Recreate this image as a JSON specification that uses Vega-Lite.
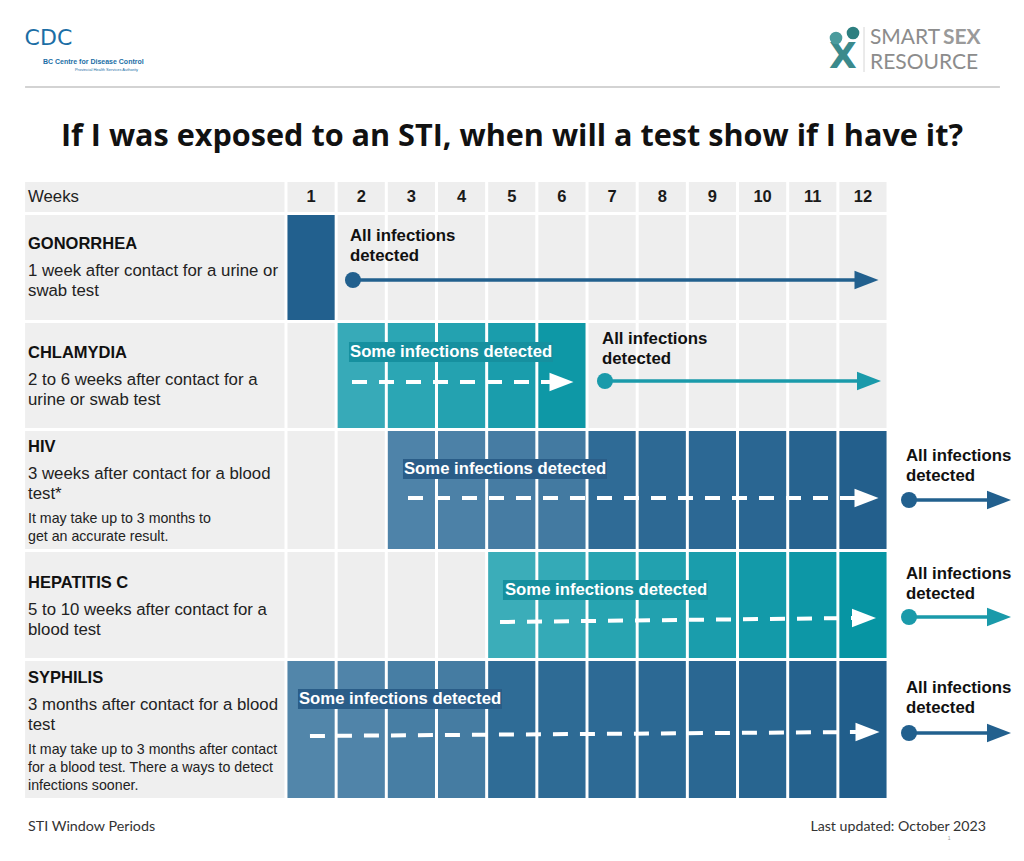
{
"$schema":"https://vega.github.io/schema/vega-lite/v6.json",
"width":1024,"height":861,
"autosize":{"type":"fit","contains":"padding"},
"padding":0,
"background":"#ffffff",
"config":{"view":{"stroke":null},"font":"Liberation Sans","axis":{"disable":true}},
"datasets":{
"rows":[
{"row":"Weeks","y":182,"y2":212},
{"row":"GONORRHEA","y":215,"y2":320},
{"row":"CHLAMYDIA","y":323,"y2":428},
{"row":"HIV","y":431,"y2":549},
{"row":"HEPATITIS C","y":552,"y2":658},
{"row":"SYPHILIS","y":661,"y2":798}],
"cells":[
{"row":"Weeks","week":1,"phase":"header"},{"row":"Weeks","week":2,"phase":"header"},{"row":"Weeks","week":3,"phase":"header"},{"row":"Weeks","week":4,"phase":"header"},{"row":"Weeks","week":5,"phase":"header"},{"row":"Weeks","week":6,"phase":"header"},{"row":"Weeks","week":7,"phase":"header"},{"row":"Weeks","week":8,"phase":"header"},{"row":"Weeks","week":9,"phase":"header"},{"row":"Weeks","week":10,"phase":"header"},{"row":"Weeks","week":11,"phase":"header"},{"row":"Weeks","week":12,"phase":"header"},
{"row":"GONORRHEA","week":1,"phase":"window"},{"row":"GONORRHEA","week":2,"phase":"after"},{"row":"GONORRHEA","week":3,"phase":"after"},{"row":"GONORRHEA","week":4,"phase":"after"},{"row":"GONORRHEA","week":5,"phase":"after"},{"row":"GONORRHEA","week":6,"phase":"after"},{"row":"GONORRHEA","week":7,"phase":"after"},{"row":"GONORRHEA","week":8,"phase":"after"},{"row":"GONORRHEA","week":9,"phase":"after"},{"row":"GONORRHEA","week":10,"phase":"after"},{"row":"GONORRHEA","week":11,"phase":"after"},{"row":"GONORRHEA","week":12,"phase":"after"},
{"row":"CHLAMYDIA","week":1,"phase":"before"},{"row":"CHLAMYDIA","week":2,"phase":"window"},{"row":"CHLAMYDIA","week":3,"phase":"window"},{"row":"CHLAMYDIA","week":4,"phase":"window"},{"row":"CHLAMYDIA","week":5,"phase":"window"},{"row":"CHLAMYDIA","week":6,"phase":"window"},{"row":"CHLAMYDIA","week":7,"phase":"after"},{"row":"CHLAMYDIA","week":8,"phase":"after"},{"row":"CHLAMYDIA","week":9,"phase":"after"},{"row":"CHLAMYDIA","week":10,"phase":"after"},{"row":"CHLAMYDIA","week":11,"phase":"after"},{"row":"CHLAMYDIA","week":12,"phase":"after"},
{"row":"HIV","week":1,"phase":"before"},{"row":"HIV","week":2,"phase":"before"},{"row":"HIV","week":3,"phase":"window"},{"row":"HIV","week":4,"phase":"window"},{"row":"HIV","week":5,"phase":"window"},{"row":"HIV","week":6,"phase":"window"},{"row":"HIV","week":7,"phase":"window"},{"row":"HIV","week":8,"phase":"window"},{"row":"HIV","week":9,"phase":"window"},{"row":"HIV","week":10,"phase":"window"},{"row":"HIV","week":11,"phase":"window"},{"row":"HIV","week":12,"phase":"window"},
{"row":"HEPATITIS C","week":1,"phase":"before"},{"row":"HEPATITIS C","week":2,"phase":"before"},{"row":"HEPATITIS C","week":3,"phase":"before"},{"row":"HEPATITIS C","week":4,"phase":"before"},{"row":"HEPATITIS C","week":5,"phase":"window"},{"row":"HEPATITIS C","week":6,"phase":"window"},{"row":"HEPATITIS C","week":7,"phase":"window"},{"row":"HEPATITIS C","week":8,"phase":"window"},{"row":"HEPATITIS C","week":9,"phase":"window"},{"row":"HEPATITIS C","week":10,"phase":"window"},{"row":"HEPATITIS C","week":11,"phase":"window"},{"row":"HEPATITIS C","week":12,"phase":"window"},
{"row":"SYPHILIS","week":1,"phase":"window"},{"row":"SYPHILIS","week":2,"phase":"window"},{"row":"SYPHILIS","week":3,"phase":"window"},{"row":"SYPHILIS","week":4,"phase":"window"},{"row":"SYPHILIS","week":5,"phase":"window"},{"row":"SYPHILIS","week":6,"phase":"window"},{"row":"SYPHILIS","week":7,"phase":"window"},{"row":"SYPHILIS","week":8,"phase":"window"},{"row":"SYPHILIS","week":9,"phase":"window"},{"row":"SYPHILIS","week":10,"phase":"window"},{"row":"SYPHILIS","week":11,"phase":"window"},{"row":"SYPHILIS","week":12,"phase":"window"}],
"labels":[
{"text":"Weeks","x":-5.142,"y":197,"style":"desc"},
{"text":"GONORRHEA","x":-5.142,"y":244,"style":"name"},
{"text":"1 week after contact for a urine or","x":-5.142,"y":271,"style":"desc"},
{"text":"swab test","x":-5.142,"y":291,"style":"desc"},
{"text":"CHLAMYDIA","x":-5.142,"y":353,"style":"name"},
{"text":"2 to 6 weeks after contact for a","x":-5.142,"y":380,"style":"desc"},
{"text":"urine or swab test","x":-5.142,"y":400,"style":"desc"},
{"text":"HIV","x":-5.142,"y":447,"style":"name"},
{"text":"3 weeks after contact for a blood","x":-5.142,"y":474,"style":"desc"},
{"text":"test*","x":-5.142,"y":494,"style":"desc"},
{"text":"It may take up to 3 months to","x":-5.142,"y":519,"style":"note"},
{"text":"get an accurate result.","x":-5.142,"y":537,"style":"note"},
{"text":"HEPATITIS C","x":-5.142,"y":583,"style":"name"},
{"text":"5 to 10 weeks after contact for a","x":-5.142,"y":610,"style":"desc"},
{"text":"blood test","x":-5.142,"y":630,"style":"desc"},
{"text":"SYPHILIS","x":-5.142,"y":678,"style":"name"},
{"text":"3 months after contact for a blood","x":-5.142,"y":705,"style":"desc"},
{"text":"test","x":-5.142,"y":725,"style":"desc"},
{"text":"It may take up to 3 months after contact","x":-5.142,"y":750,"style":"note"},
{"text":"for a blood test. There a ways to detect","x":-5.142,"y":768,"style":"note"},
{"text":"infections sooner.","x":-5.142,"y":786,"style":"note"},
{"text":"All infections","x":1.276,"y":236,"style":"all"},
{"text":"detected","x":1.276,"y":256,"style":"all"},
{"text":"All infections","x":6.299,"y":339,"style":"all"},
{"text":"detected","x":6.299,"y":359,"style":"all"},
{"text":"All infections","x":12.358,"y":456,"style":"all"},
{"text":"detected","x":12.358,"y":476,"style":"all"},
{"text":"All infections","x":12.358,"y":574,"style":"all"},
{"text":"detected","x":12.358,"y":594,"style":"all"},
{"text":"All infections","x":12.358,"y":688,"style":"all"},
{"text":"detected","x":12.358,"y":708,"style":"all"},
{"text":"Some infections detected","x":1.276,"y":352,"style":"some"},
{"text":"Some infections detected","x":2.352,"y":469,"style":"some"},
{"text":"Some infections detected","x":4.365,"y":590,"style":"some"},
{"text":"Some infections detected","x":0.259,"y":699,"style":"some"}],
"page":[
{"text":"If I was exposed to an STI, when will a test show if I have it?","x":4.505,"y":137,"style":"title"},
{"text":"STI Window Periods","x":-5.142,"y":827,"style":"footL"},
{"text":"Last updated: October 2023","x":13.953,"y":827,"style":"footR"},
{"text":"1","x":13.22,"y":838,"style":"tiny"},
{"text":"CDC","x":-5.21,"y":38,"style":"cdc"},
{"text":"BC Centre for Disease Control","x":-4.844,"y":62,"style":"bccdc"},
{"text":"Provincial Health Services Authority","x":-4.206,"y":69.5,"style":"phsa"},
{"text":"SMART","x":11.64,"y":38,"style":"smart"},
{"text":"SEX","x":13.095,"y":38,"style":"sex"},
{"text":"RESOURCE","x":11.64,"y":62.5,"style":"smart"},
{"text":"X","x":11.102,"y":57,"style":"xicon"}],
"icondots":[
{"x":10.963,"y":38,"tone":"light"},
{"x":11.302,"y":33,"tone":"dark"}],
"rules":[
{"x":-5.2,"x2":14.23,"y":87,"y2":87,"tone":"header"},
{"x":11.521,"x2":11.521,"y":27,"y2":72,"tone":"divider"}],
"highlights":[
{"x":1.256,"x2":5.322,"y":342,"y2":362,"tone":"teal"},
{"x":2.332,"x2":6.398,"y":459,"y2":479,"tone":"blue"},
{"x":4.325,"x2":8.411,"y":580,"y2":600,"tone":"teal"},
{"x":0.239,"x2":4.305,"y":689,"y2":709,"tone":"blue"}],
"lines":[
{"x":1.335,"x2":11.40,"y":280,"y2":280,"tone":"blue","dash":"solid"},
{"x":6.358,"x2":11.48,"y":381,"y2":381,"tone":"teal","dash":"solid"},
{"x":12.418,"x2":14.03,"y":500,"y2":500,"tone":"blue","dash":"solid"},
{"x":12.418,"x2":14.03,"y":617,"y2":617,"tone":"teal","dash":"solid"},
{"x":12.418,"x2":14.03,"y":733,"y2":733,"tone":"blue","dash":"solid"},
{"x":1.316,"x2":5.262,"y":382,"y2":382,"tone":"white","dash":"dashed"},
{"x":2.432,"x2":11.361,"y":498,"y2":498,"tone":"white","dash":"dashed"},
{"x":4.266,"x2":11.302,"y":622,"y2":618,"tone":"white","dash":"dashed"},
{"x":0.478,"x2":11.361,"y":736,"y2":732,"tone":"white","dash":"dashed"}],
"dots":[
{"x":1.335,"y":280,"tone":"blue"},
{"x":6.358,"y":381,"tone":"teal"},
{"x":12.418,"y":500,"tone":"blue"},
{"x":12.418,"y":617,"tone":"teal"},
{"x":12.418,"y":733,"tone":"blue"}],
"heads":[
{"x":11.571,"y":280,"tone":"blue"},
{"x":11.621,"y":381,"tone":"teal"},
{"x":5.491,"y":382,"tone":"white"},
{"x":11.571,"y":498,"tone":"white"},
{"x":11.521,"y":618,"tone":"white"},
{"x":11.591,"y":732,"tone":"white"},
{"x":14.212,"y":500,"tone":"blue"},
{"x":14.212,"y":617,"tone":"teal"},
{"x":14.212,"y":733,"tone":"blue"}]
},
"encoding":{
"x":{"field":"x","type":"quantitative","scale":{"domain":[-5.7,14.71],"nice":false,"zero":false},"axis":null},
"y":{"field":"y","type":"quantitative","scale":{"domain":[0,861],"reverse":true,"nice":false,"zero":false},"axis":null}
},
"layer":[
{"data":{"name":"rules"},"transform":[{"filter":"datum.tone == 'header'"}],"mark":{"type":"rule","stroke":"#c4c4c4","strokeWidth":1.5},
 "encoding":{"x2":{"field":"x2"},"y2":{"field":"y2"}}},
{"data":{"name":"rules"},"transform":[{"filter":"datum.tone == 'divider'"}],"mark":{"type":"rule","stroke":"#d6d6d6","strokeWidth":1},
 "encoding":{"x2":{"field":"x2"},"y2":{"field":"y2"}}},
{"data":{"name":"page"},"transform":[{"filter":"datum.style == 'cdc'"}],"mark":{"type":"text","align":"left","baseline":"middle","fontSize":22,"font":"DejaVu Sans","fill":"#1b6ea5"},
 "encoding":{"text":{"field":"text"}}},
{"data":{"name":"page"},"transform":[{"filter":"datum.style == 'bccdc'"}],"mark":{"type":"text","align":"left","baseline":"middle","fontSize":7,"fontWeight":"bold","fill":"#1b6ea5"},
 "encoding":{"text":{"field":"text"}}},
{"data":{"name":"page"},"transform":[{"filter":"datum.style == 'phsa'"}],"mark":{"type":"text","align":"left","baseline":"middle","fontSize":4,"fill":"#1b6ea5"},
 "encoding":{"text":{"field":"text"}}},
{"data":{"name":"page"},"transform":[{"filter":"datum.style == 'smart'"}],"mark":{"type":"text","align":"left","baseline":"middle","fontSize":21,"font":"Lato","fill":"#8c8c8c"},
 "encoding":{"text":{"field":"text"}}},
{"data":{"name":"page"},"transform":[{"filter":"datum.style == 'sex'"}],"mark":{"type":"text","align":"left","baseline":"middle","fontSize":21,"font":"Lato","fontWeight":"bold","fill":"#9a9a9a"},
 "encoding":{"text":{"field":"text"}}},
{"data":{"name":"page"},"transform":[{"filter":"datum.style == 'xicon'"}],"mark":{"type":"text","align":"center","baseline":"middle","fontSize":36,"font":"DejaVu Sans","fontWeight":"bold","fill":"#3b8a8c"},
 "encoding":{"text":{"field":"text"}}},
{"data":{"name":"icondots"},"mark":{"type":"point","shape":"circle","filled":true,"size":160,"opacity":1,"strokeWidth":0},
 "encoding":{"fill":{"field":"tone","type":"nominal","legend":null,"scale":{"domain":["light","dark"],"range":["#4b9b9d","#2d7f80"]}}}},
{"data":{"name":"page"},"transform":[{"filter":"datum.style == 'title'"}],"mark":{"type":"text","align":"center","baseline":"middle","fontSize":30.6,"font":"Open Sans","fontWeight":"bold","fill":"#111111"},
 "encoding":{"text":{"field":"text"}}},
{"data":{"name":"page"},"transform":[{"filter":"datum.style == 'footL'"}],"mark":{"type":"text","align":"left","baseline":"middle","fontSize":14.3,"font":"Lato","fill":"#333333"},
 "encoding":{"text":{"field":"text"}}},
{"data":{"name":"page"},"transform":[{"filter":"datum.style == 'footR'"}],"mark":{"type":"text","align":"right","baseline":"middle","fontSize":14.2,"font":"Lato","fill":"#333333"},
 "encoding":{"text":{"field":"text"}}},
{"data":{"name":"page"},"transform":[{"filter":"datum.style == 'tiny'"}],"mark":{"type":"text","align":"center","baseline":"middle","fontSize":5,"fill":"#999999"},
 "encoding":{"text":{"field":"text"}}},
{"data":{"name":"rows"},"transform":[{"calculate":"-5.2","as":"x"},{"calculate":"-0.03","as":"x2"}],"mark":{"type":"rect","fill":"#efefef"},
 "encoding":{"x2":{"field":"x2"},"y2":{"field":"y2"}}},
{"data":{"name":"cells"},
 "transform":[{"lookup":"row","from":{"data":{"name":"rows"},"key":"row","fields":["y","y2"]}},{"calculate":"datum.week - 0.97","as":"x"},{"calculate":"datum.week - 0.03","as":"x2"}],
 "mark":{"type":"rect","fill":"#eeeeee"},
 "encoding":{"x2":{"field":"x2"},"y2":{"field":"y2"}}},
{"data":{"name":"cells"},
 "transform":[{"filter":"datum.phase == 'window'"},{"lookup":"row","from":{"data":{"name":"rows"},"key":"row","fields":["y","y2"]}},{"calculate":"datum.week - 0.97","as":"x"},{"calculate":"datum.week - 0.03","as":"x2"},{"calculate":"datum.row + ' ' + datum.week","as":"key"}],
 "mark":{"type":"rect"},
 "encoding":{"x2":{"field":"x2"},"y2":{"field":"y2"},
  "fill":{"field":"key","type":"nominal","legend":null,"scale":{
   "domain":["GONORRHEA 1","CHLAMYDIA 2","CHLAMYDIA 3","CHLAMYDIA 4","CHLAMYDIA 5","CHLAMYDIA 6","HIV 3","HIV 4","HIV 5","HIV 6","HIV 7","HIV 8","HIV 9","HIV 10","HIV 11","HIV 12","HEPATITIS C 5","HEPATITIS C 6","HEPATITIS C 7","HEPATITIS C 8","HEPATITIS C 9","HEPATITIS C 10","HEPATITIS C 11","HEPATITIS C 12","SYPHILIS 1","SYPHILIS 2","SYPHILIS 3","SYPHILIS 4","SYPHILIS 5","SYPHILIS 6","SYPHILIS 7","SYPHILIS 8","SYPHILIS 9","SYPHILIS 10","SYPHILIS 11","SYPHILIS 12"],
   "range":["#22608e","#37aab8","#2ba6b4","#24a2b0","#1a9dac","#0e98a6","#4e83a9","#4c81a7","#467ca3","#437aa1","#2f6b96","#2d6994","#2c6894","#2a6692","#27638f","#235f8c","#3badb9","#34aab7","#27a4b1","#22a1af","#1a9dac","#139aa9","#0d97a6","#0795a3","#5286aa","#5084a9","#477ea4","#457ca2","#2f6c96","#2e6b95","#2d6a95","#2c6994","#2a6792","#286590","#25628e","#215e8b"]}}}},
{"data":{"name":"highlights"},"mark":{"type":"rect"},
 "encoding":{"x2":{"field":"x2"},"y2":{"field":"y2"},
  "fill":{"field":"tone","type":"nominal","legend":null,"scale":{"domain":["teal","blue"],"range":["#16909f","#2a5d88"]}}}},
{"data":{"name":"cells"},
 "transform":[{"filter":"datum.row == 'Weeks'"},{"lookup":"row","from":{"data":{"name":"rows"},"key":"row","fields":["y","y2"]}},{"calculate":"datum.week - 0.5","as":"x"},{"calculate":"(datum.y + datum.y2) / 2","as":"y"}],
 "mark":{"type":"text","align":"center","baseline":"middle","fontSize":16.5,"fontWeight":"bold","fill":"#1a1a1a"},
 "encoding":{"text":{"field":"week","type":"nominal"}}},
{"data":{"name":"labels"},"transform":[{"filter":"datum.style == 'name'"}],
 "mark":{"type":"text","align":"left","baseline":"middle","fontSize":16.5,"fontWeight":"bold","fill":"#111111"},
 "encoding":{"text":{"field":"text"}}},
{"data":{"name":"labels"},"transform":[{"filter":"datum.style == 'desc'"}],
 "mark":{"type":"text","align":"left","baseline":"middle","fontSize":16.8,"fill":"#222222"},
 "encoding":{"text":{"field":"text"}}},
{"data":{"name":"labels"},"transform":[{"filter":"datum.style == 'note'"}],
 "mark":{"type":"text","align":"left","baseline":"middle","fontSize":14.2,"fill":"#222222"},
 "encoding":{"text":{"field":"text"}}},
{"data":{"name":"labels"},"transform":[{"filter":"datum.style == 'all'"}],
 "mark":{"type":"text","align":"left","baseline":"middle","fontSize":16.8,"fontWeight":"bold","fill":"#111111"},
 "encoding":{"text":{"field":"text"}}},
{"data":{"name":"labels"},"transform":[{"filter":"datum.style == 'some'"}],
 "mark":{"type":"text","align":"left","baseline":"middle","fontSize":16.7,"fontWeight":"bold","fill":"#ffffff"},
 "encoding":{"text":{"field":"text"}}},
{"data":{"name":"lines"},"transform":[{"filter":"datum.dash == 'solid'"}],
 "mark":{"type":"rule","strokeWidth":3.5},
 "encoding":{"x2":{"field":"x2"},"y2":{"field":"y2"},
  "stroke":{"field":"tone","type":"nominal","legend":null,"scale":{"domain":["blue","teal"],"range":["#22608e","#1a9aaa"]}}}},
{"data":{"name":"lines"},"transform":[{"filter":"datum.dash == 'dashed'"}],
 "mark":{"type":"rule","strokeWidth":4,"stroke":"#ffffff","strokeDash":[15,12]},
 "encoding":{"x2":{"field":"x2"},"y2":{"field":"y2"}}},
{"data":{"name":"dots"},
 "mark":{"type":"point","shape":"circle","filled":true,"size":256,"opacity":1,"strokeWidth":0},
 "encoding":{"fill":{"field":"tone","type":"nominal","legend":null,"scale":{"domain":["blue","teal"],"range":["#22608e","#1a9aaa"]}}}},
{"data":{"name":"heads"},
 "mark":{"type":"point","shape":"M-1,-0.78L1,0L-1,0.78Z","filled":true,"size":576,"opacity":1,"strokeWidth":0},
 "encoding":{"fill":{"field":"tone","type":"nominal","legend":null,"scale":{"domain":["blue","teal","white"],"range":["#22608e","#1a9aaa","#ffffff"]}}}}
],
"resolve":{"scale":{"fill":"independent","stroke":"independent","color":"independent"}}
}
